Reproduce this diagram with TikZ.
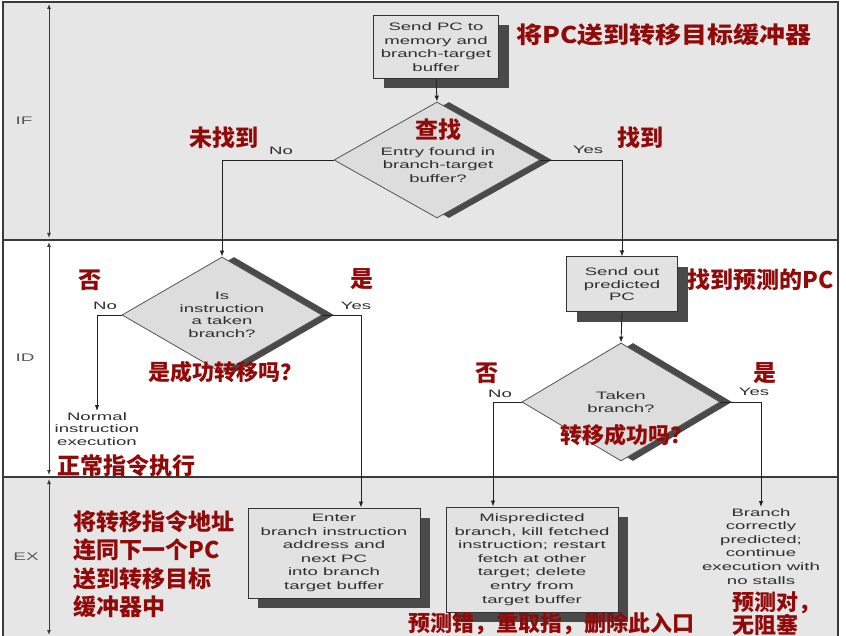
\documentclass[tikz,border=0pt]{standalone}
\usepackage{fontspec}
\setmainfont{Liberation Sans}
\newfontfamily\en{Liberation Sans}[FakeStretch=1.72]
\newfontfamily\cjk{Noto Sans CJK SC}
\newfontfamily\cjkw{Noto Sans CJK SC}[FakeStretch=1.13]
\usetikzlibrary{arrows.meta,shapes.geometric,shadows}
\definecolor{bandgray}{HTML}{E6E6E6}
\definecolor{boxfill}{HTML}{E2E2E2}
\definecolor{diafill}{HTML}{DDDDDD}
\definecolor{boxline}{HTML}{333333}
\definecolor{diaborder}{HTML}{555555}
\definecolor{shadowgray}{HTML}{4A4A4A}
\definecolor{txtgray}{HTML}{2E2E2E}
\definecolor{redc}{HTML}{900A0A}
\definecolor{linec}{HTML}{222222}
\definecolor{framec}{HTML}{3A3A3A}
\begin{document}
\begin{tikzpicture}[x=1pt,y=-1pt,
  en/.style={font=\en\fontsize{10.8}{13.6}\selectfont, text=txtgray, align=center, inner sep=1pt},
  ent/.style={font=\en\fontsize{10.8}{12.5}\selectfont, text=txtgray, align=center, inner sep=1pt},
  box/.style={draw=boxline, line width=1pt, fill=boxfill, inner sep=0pt,
    drop shadow={shadow xshift=10pt, shadow yshift=-10pt, fill=shadowgray, opacity=1}},
  dia/.style={diamond, draw=diaborder, line width=0.8pt, fill=diafill, inner sep=0pt,
    drop shadow={shadow xshift=12pt, shadow yshift=0pt, fill=shadowgray, opacity=1}},
  redt/.style={font=\cjk\bfseries\fontsize{23}{28.5}\selectfont, text=redc, inner sep=0pt},
  redq/.style={font=\cjk\bfseries\fontsize{22}{26}\selectfont, text=redc, inner sep=0pt},
  arr/.style={draw=linec, line width=0.9pt, -{Latex[length=6pt,width=4.5pt]}},
  ln/.style={draw=linec, line width=0.9pt},
  stage/.style={draw=framec, line width=0.9pt, {Latex[length=5pt,width=4pt]}-{Latex[length=5pt,width=4pt]}},
  stagelbl/.style={font=\en\fontsize{11}{13}\selectfont, text=txtgray!80}
]
\useasboundingbox (0,0) rectangle (846,636);
\fill[white] (0,0) rectangle (846,636);
% bands
\fill[bandgray] (3,2) rectangle (838,240);
\fill[white] (3,240) rectangle (838,477);
\fill[bandgray] (3,477) rectangle (838,640);
\draw[framec, line width=1.3pt] (3,2) rectangle (838,640);
\draw[framec, line width=1.3pt] (3,240) -- (838,240);
\draw[framec, line width=1.3pt] (3,477) -- (838,477);
% stage arrows
\coordinate (ifA) at (49,4);   \coordinate (ifB) at (49,238);
\coordinate (idA) at (49,242); \coordinate (idB) at (49,475);
\coordinate (exA) at (49,479); \coordinate (exB) at (49,635);
\draw[stage] (ifA) -- (ifB);
\draw[stage] (idA) -- (idB);
\draw[stage] (exA) -- (exB);
\node[stagelbl] (lif) at (24,121) {IF};
\node[stagelbl] (lid) at (25,358) {ID};
\node[stagelbl] (lex) at (26,557) {EX};

% IF stage
\node[box, minimum width=125, minimum height=63, en] (b1) at (436,47) {Send PC to\\memory and\\branch-target\\buffer};
\node[dia, minimum width=206, minimum height=116] (d1) at (437,160) {};
\node[en] (d1t) at (438,165) {Entry found in\\branch-target\\buffer?};
\draw[arr] (b1.south) -- (d1.north);

% ID stage
\node[dia, minimum width=200, minimum height=116] (d2) at (222,315) {};
\node[ent] (d2t) at (222,315) {Is\\instruction\\a taken\\branch?};
\node[box, minimum width=111, minimum height=55, ent] (b2) at (622,284.5) {Send out\\predicted\\PC};
\node[dia, minimum width=198, minimum height=118] (d3) at (621,402) {};
\node[ent] (d3t) at (621,402) {Taken\\branch?};
\node[ent, anchor=north] (nrm) at (97,411) {Normal\\instruction\\execution};

% EX stage
\node[box, minimum width=172, minimum height=90, en] (b3) at (334,553) {Enter\\branch instruction\\address and\\next PC\\into branch\\target buffer};
\node[box, minimum width=172, minimum height=105, en] (b4) at (532,559.5) {Mispredicted\\branch, kill fetched\\instruction; restart\\fetch at other\\target; delete\\entry from\\target buffer};
\node[en, anchor=north] (cor) at (761,507) {Branch\\correctly\\predicted;\\continue\\execution with\\no stalls};

% connectors
\coordinate (c1) at (222,160);
\coordinate (c2) at (622,160);
\draw[arr] (d1.west) -- (c1) -- (d2.north);
\draw[arr] (d1.east) -- (c2) -- (b2.north);
\draw[arr] (b2.south) -- (d3.north);
\coordinate (c3) at (97,315);
\coordinate (c4) at (361,315);
\draw[arr] (d2.west) -- (c3) -- (nrm.north);
\draw[arr] (d2.east) -- (c4) -- (c4 |- b3.north);
\coordinate (c5) at (493,402);
\coordinate (c6) at (761,402);
\draw[arr] (d3.west) -- (c5) -- (c5 |- b4.north);
\draw[arr] (d3.east) -- (c6) -- (cor.north);

% Yes / No labels
\node[en] (n1) at (281,151) {No};
\node[en] (y1) at (588,150) {Yes};
\node[en] (n2) at (105,306) {No};
\node[en] (y2) at (356,306) {Yes};
\node[en] (n3) at (500,394) {No};
\node[en] (y3) at (754,392) {Yes};

% red annotations
\node[redt, font=\cjkw\bfseries\fontsize{23}{28}\selectfont, anchor=west] (r1) at (516,35) {将PC送到转移目标缓冲器};
\node[redt] (r2) at (224,138) {未找到};
\node[redt] (r3) at (438,130) {查找};
\node[redt] (r4) at (640,138) {找到};
\node[redt] (r5) at (90,280) {否};
\node[redt] (r6) at (362,279) {是};
\node[redq] (r7) at (225,372) {是成功转移吗？};
\node[redt, anchor=west] (r8) at (687,280) {找到预测的PC};
\node[redt] (r9) at (487,373) {否};
\node[redt] (r10) at (765,373) {是};
\node[redq] (r11) at (626,435) {转移成功吗？};
\node[redt, anchor=west] (r12) at (57,466) {正常指令执行};
\node[redt, anchor=north west, align=left] (r13) at (73,510) {将转移指令地址\\连同下一个PC\\送到转移目标\\缓冲器中};
\node[redq, anchor=west] (r14) at (408,624) {预测错，重取指，删除此入口};
\node[redq, anchor=north west, align=left, font=\cjk\bfseries\fontsize{22}{23.5}\selectfont] (r15) at (732,591) {预测对，\\无阻塞};
\end{tikzpicture}
\end{document}
